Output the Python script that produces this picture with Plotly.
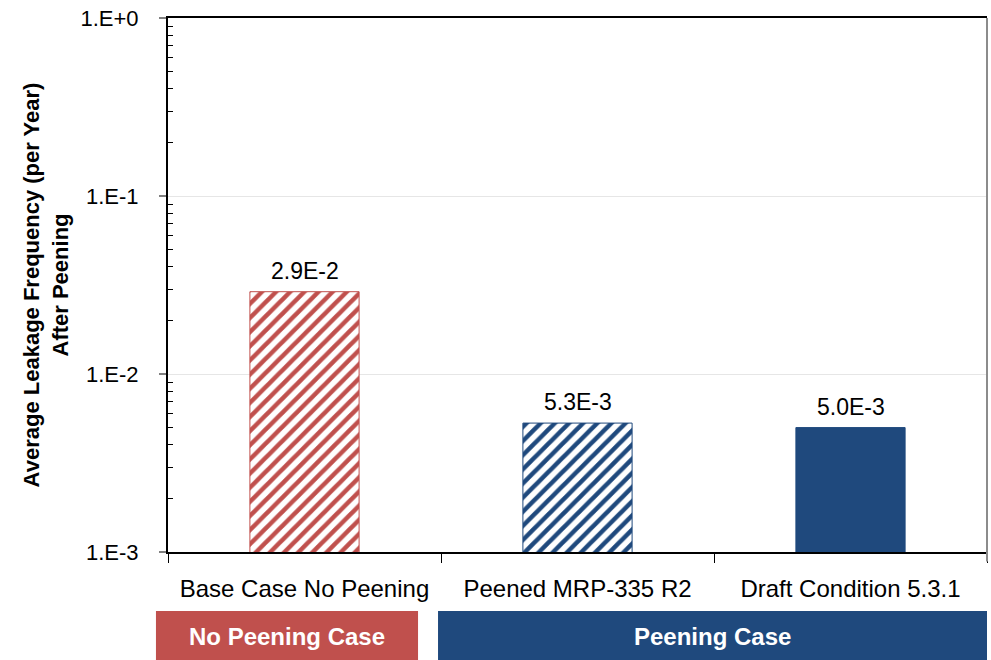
import math
import plotly.graph_objects as go

categories = ["Base Case No Peening", "Peened MRP-335 R2", "Draft Condition 5.3.1"]
values = [2.9e-2, 5.3e-3, 5.0e-3]
value_labels = ["2.9E-2", "5.3E-3", "5.0E-3"]
bar_colors = ["#C0504D", "#1F497D", "#1F497D"]
bar_patterns = ["/", "/", ""]
tick_vals = [1e-3, 1e-2, 1e-1, 1e0]
tick_text = ["1.E-3", "1.E-2", "1.E-1", "1.E+0"]
group_labels = ["No Peening Case", "Peening Case"]
group_colors = ["#C0504D", "#1F497D"]

FONT = "Liberation Sans, Arial"

fig = go.Figure()
for c, v, col, pat in zip(categories, values, bar_colors, bar_patterns):
    if pat:
        marker = dict(color="white", line=dict(color=col, width=1),
                      pattern=dict(shape=pat, fgcolor=col, bgcolor="white",
                                   fgopacity=1, size=10, solidity=0.45,
                                   fillmode="overlay"))
    else:
        marker = dict(color=col, line=dict(color=col, width=1))
    fig.add_trace(go.Bar(x=[c], y=[v], width=0.4, marker=marker,
                         showlegend=False, hoverinfo="skip"))

for c, v, t in zip(categories, values, value_labels):
    fig.add_annotation(x=c, y=math.log10(v), xref="x", yref="y", text=t,
                       showarrow=False, yanchor="bottom", yshift=6,
                       font=dict(family=FONT, size=23, color="#000"))

minor_vals = [m * 10.0 ** e for e in (-3, -2, -1) for m in range(2, 10)]

fig.update_layout(
    width=991, height=660,
    barmode="overlay",
    margin=dict(l=168, r=4, t=18, b=108),
    plot_bgcolor="white", paper_bgcolor="white",
    xaxis=dict(
        automargin=False, tickangle=0,
        categoryorder="array", categoryarray=categories,
        showline=True, linecolor="black", linewidth=2, mirror=True,
        ticks="outside", ticklen=9, tickcolor="black", tickwidth=1,
        tickson="boundaries",
        tickfont=dict(family=FONT, size=24, color="#000"),
        ticklabelstandoff=14,
        showgrid=False,
    ),
    yaxis=dict(
        automargin=False,
        type="log", range=[-3, 0],
        tickmode="array", tickvals=tick_vals, ticktext=tick_text,
        tickfont=dict(family=FONT, size=22, color="#000"),
        ticklabelstandoff=16,
        ticks="outside", ticklen=7, tickcolor="#808080", tickwidth=2,
        showline=True, linecolor="black", linewidth=2,
        showgrid=True, gridcolor="#E6E6E6", gridwidth=1,
        minor=dict(tickmode="array", tickvals=minor_vals, ticks="inside",
                   ticklen=5, tickcolor="black", tickwidth=1, showgrid=False),
        title=dict(text="<b>Average Leakage Frequency (per Year)<br>After Peening</b>",
                   font=dict(family=FONT, size=22, color="#000"), standoff=6),
        zeroline=False,
    ),
)

# right border (gray)
fig.add_shape(type="line", xref="paper", yref="paper", x0=1, x1=1, y0=-0.018, y1=1,
              line=dict(color="#8C8C8C", width=2))

# group boxes below
box_x = [(-0.0147, 0.3053), (0.3297, 1.0)]
for (x0, x1), lab, col in zip(box_x, group_labels, group_colors):
    fig.add_shape(type="rect", xref="paper", yref="paper", x0=x0, x1=x1,
                  y0=-0.2022, y1=-0.1105, fillcolor=col, line=dict(width=0),
                  layer="above")
    fig.add_annotation(xref="paper", yref="paper", x=(x0 + x1) / 2, y=-0.1585,
                       text="<b>" + lab + "</b>", showarrow=False,
                       xanchor="center", yanchor="middle",
                       font=dict(family=FONT, size=24, color="white"))

fig.write_html("out.html", config={"displayModeBar": False},
               post_script="document.body.style.margin='0';"
                           "document.body.style.overflow='hidden';")
